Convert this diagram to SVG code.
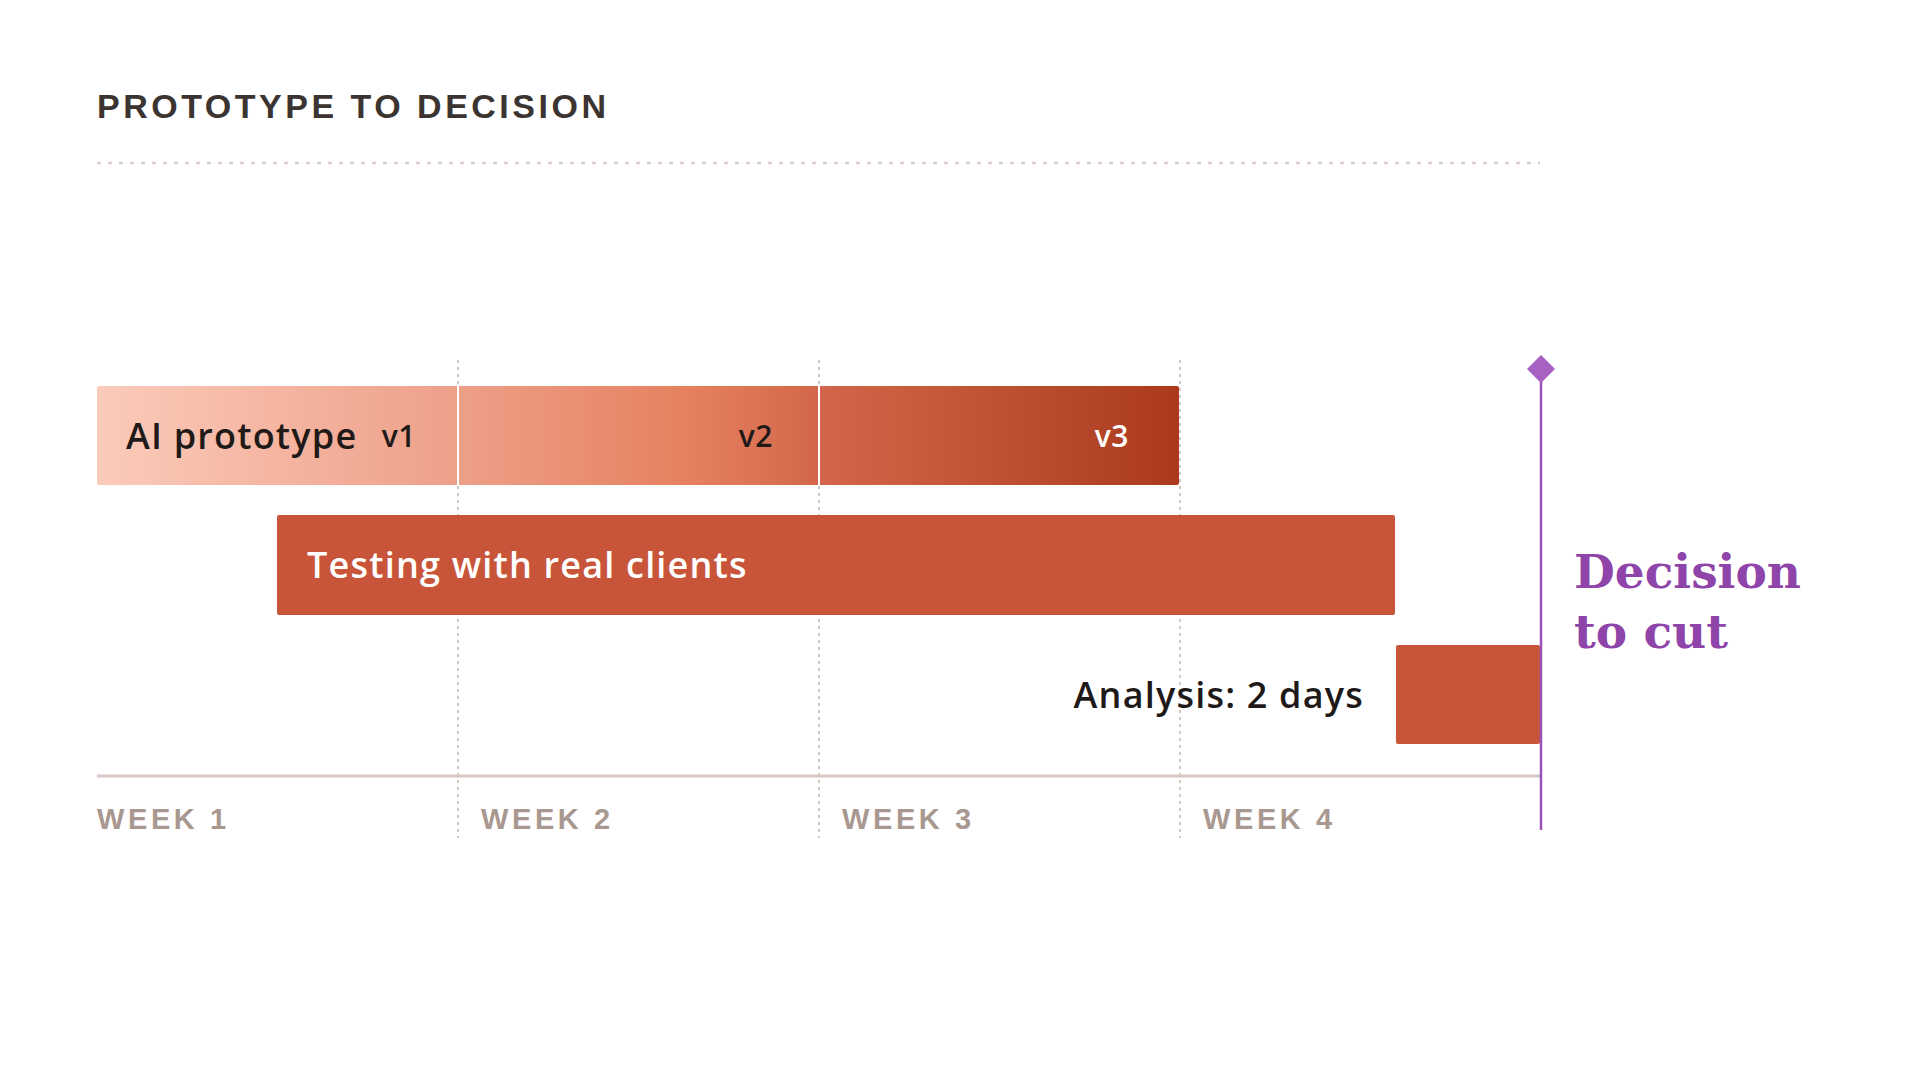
<svg xmlns="http://www.w3.org/2000/svg" width="1920" height="1080" viewBox="0 0 1920 1080">
<defs>
<linearGradient id="protoGrad" x1="97" y1="0" x2="1179" y2="0" gradientUnits="userSpaceOnUse">
<stop offset="0" stop-color="#fbcbba"/>
<stop offset="0.33" stop-color="#eea089"/>
<stop offset="0.55" stop-color="#e5805f"/>
<stop offset="0.67" stop-color="#d3664a"/>
<stop offset="1" stop-color="#ab3a1d"/>
</linearGradient>
<style>
.title{font-family:"Liberation Sans",Arial,sans-serif;font-weight:700;font-size:34px;letter-spacing:3.5px;fill:#3b3431}
.week{font-family:"Liberation Sans",Arial,sans-serif;font-weight:700;font-size:29px;letter-spacing:3.6px;fill:#a89890}
.lbl{font-family:"Open Sans","Noto Sans",sans-serif;font-weight:600;font-size:36px;letter-spacing:1.2px}
.ver{font-family:"Open Sans","Noto Sans",sans-serif;font-weight:600;font-size:30px;letter-spacing:0.5px}
.dec{font-family:"DejaVu Serif",serif;font-weight:700;font-size:47px;fill:#8e44a8}
.grid{stroke:#d6c6c1;stroke-width:2;stroke-dasharray:3 4;fill:none}
.bar{fill:#c8553a}
</style>
</defs>
<rect width="1920" height="1080" fill="#ffffff"/>
<text class="title" x="97" y="118">PROTOTYPE TO DECISION</text>
<line x1="97" y1="163" x2="1540" y2="163" stroke="#ddcdca" stroke-width="2.5" stroke-dasharray="4 7"/>
<g id="grid">
<line class="grid" x1="458" y1="360" x2="458" y2="838"/>
<line class="grid" x1="819" y1="360" x2="819" y2="838"/>
<line class="grid" x1="1180" y1="360" x2="1180" y2="838"/>
</g>
<g id="ai-prototype">
<rect x="97" y="386" width="1082" height="99" rx="2" fill="url(#protoGrad)"/>
<line x1="458" y1="386" x2="458" y2="485" stroke="#ffffff" stroke-width="2"/>
<line x1="819" y1="386" x2="819" y2="485" stroke="#ffffff" stroke-width="2"/>
<text class="lbl" x="126" y="449" fill="#1f1a18">AI prototype</text>
<text class="ver" x="416" y="447" text-anchor="end" fill="#1f1a18">v1</text>
<text class="ver" x="773" y="447" text-anchor="end" fill="#1f1a18">v2</text>
<text class="ver" x="1129" y="447" text-anchor="end" fill="#ffffff">v3</text>
</g>
<g id="testing">
<rect class="bar" x="277" y="515" width="1118" height="100" rx="2"/>
<text class="lbl" x="307" y="578" fill="#ffffff">Testing with real clients</text>
</g>
<g id="analysis">
<rect class="bar" x="1396" y="645" width="144" height="99" rx="2"/>
<text class="lbl" x="1364" y="708" text-anchor="end" fill="#1f1a18">Analysis: 2 days</text>
</g>
<g id="axis">
<line x1="97" y1="776" x2="1540" y2="776" stroke="#d8c8c3" stroke-width="3"/>
<text class="week" x="97" y="829">WEEK 1</text>
<text class="week" x="481" y="829">WEEK 2</text>
<text class="week" x="842" y="829">WEEK 3</text>
<text class="week" x="1203" y="829">WEEK 4</text>
</g>
<g id="decision">
<line x1="1541" y1="369" x2="1541" y2="830" stroke="#9b52b8" stroke-width="2.5"/>
<polygon points="1541,355 1555,369 1541,383 1527,369" fill="#a661c2"/>
<text class="dec" x="1574" y="588">Decision</text>
<text class="dec" x="1574" y="648">to cut</text>
</g>
</svg>
